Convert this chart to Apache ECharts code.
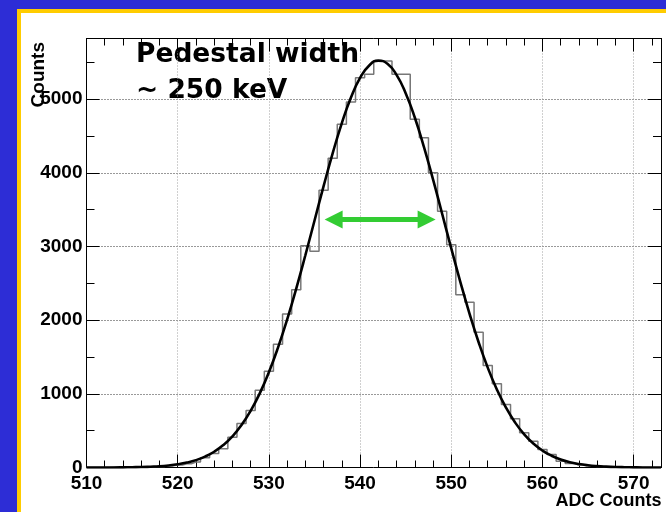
<!DOCTYPE html>
<html>
<head>
<meta charset="utf-8">
<script src="https://cdn.jsdelivr.net/npm/echarts@6.0.0/dist/echarts.min.js"></script>
<style>
  html, body { margin: 0; padding: 0; width: 666px; height: 512px; overflow: hidden; background: #2d2dd6; }
  #panel { position: absolute; left: 17px; top: 9px; width: 700px; height: 600px; background: #fff;
           border-left: 4px solid #ffcc00; border-top: 4px solid #ffcc00; }
  #main { position: absolute; left: 0; top: 0; width: 666px; height: 512px; }
</style>
</head>
<body>
<div id="panel"></div>
<div id="main"></div>
<script>
// histogram bins (bin centre, entries)
var binAdc = [510, 511, 512, 513, 514, 515, 516, 517, 518, 519,
              520, 521, 522, 523, 524, 525, 526, 527, 528, 529,
              530, 531, 532, 533, 534, 535, 536, 537, 538, 539,
              540, 541, 542, 543, 544, 545, 546, 547, 548, 549,
              550, 551, 552, 553, 554, 555, 556, 557, 558, 559,
              560, 561, 562, 563, 564, 565, 566, 567, 568, 569,
              570, 571, 572];
var binCounts = [0, 1, 1, 2, 3, 4, 6, 9, 14, 22,
                 35, 52, 74, 131, 190, 254, 411, 597, 773, 1050,
                 1307, 1674, 2085, 2415, 3012, 2935, 3764, 4198, 4659, 4962,
                 5292, 5338, 5518, 5518, 5338, 5338, 4727, 4478, 4003, 3478,
                 3026, 2347, 2243, 1836, 1384, 1136, 855, 661, 471, 357,
                 244, 176, 86, 55, 35, 22, 14, 9, 5, 3,
                 2, 1, 1];

// gaussian fit curve
var fitAdc = [510, 511, 512, 513, 514, 515, 516, 517, 518, 519,
              520, 521, 522, 523, 524, 525, 526, 527, 528, 529,
              530, 531, 532, 533, 534, 535, 536, 537, 538, 539,
              540, 541, 542, 543, 544, 545, 546, 547, 548, 549,
              550, 551, 552, 553, 554, 555, 556, 557, 558, 559,
              560, 561, 562, 563, 564, 565, 566, 567, 568, 569,
              570, 571, 572, 573];
var fitCounts = [0, 0, 1, 1, 2, 4, 6, 11, 17, 28,
                 44, 67, 100, 148, 214, 304, 423, 576, 769, 1007,
                 1293, 1628, 2008, 2430, 2882, 3351, 3820, 4269, 4676, 5023,
                 5289, 5459, 5525, 5481, 5331, 5083, 4752, 4354, 3912, 3445,
                 2975, 2518, 2090, 1701, 1356, 1060, 813, 611, 450, 325,
                 230, 160, 109, 72, 47, 30, 19, 12, 7, 4,
                 2, 1, 1, 0];

// green width arrow (adc, counts)
var arrowFrom = [537.1, 3368];
var arrowTo = [547.3, 3368];

var xRange = [510, 573];
var yRange = [0, 5825];

var labelFont = "'Liberation Sans', Arial, sans-serif";
var noteFont = "'Comic Sans MS', 'DejaVu Sans', sans-serif";

function pairs(xs, ys) {
    var out = [];
    for (var i = 0; i < xs.length; i++) out.push([xs[i], ys[i]]);
    return out;
}

function xAx(pos, interval, tickLen, main) {
    return {
        type: 'value', position: pos, min: xRange[0], max: xRange[1], interval: interval,
        axisLine: { show: main, onZero: false, lineStyle: { color: '#000', width: 1 } },
        axisTick: { show: true, inside: true, length: tickLen, lineStyle: { color: '#000', width: 1 } },
        axisLabel: {
            show: main && pos === 'bottom', margin: 7, showMaxLabel: false,
            formatter: function (v) { return String(v); },
            fontSize: 19, fontWeight: 'bold', fontFamily: labelFont, color: '#000'
        },
        splitLine: { show: main && pos === 'bottom', lineStyle: { color: '#a0a0a0', type: [1, 2], width: 1 } }
    };
}

function yAx(pos, interval, tickLen, main) {
    return {
        type: 'value', position: pos, min: yRange[0], max: yRange[1], interval: interval,
        axisLine: { show: main, onZero: false, lineStyle: { color: '#000', width: 1 } },
        axisTick: { show: true, inside: true, length: tickLen, lineStyle: { color: '#000', width: 1 } },
        axisLabel: {
            show: main && pos === 'left', margin: 4, showMaxLabel: false,
            formatter: function (v) { return String(v); },
            fontSize: 19, fontWeight: 'bold', fontFamily: labelFont, color: '#000'
        },
        splitLine: { show: main && pos === 'left', lineStyle: { color: '#333', type: [1, 2], width: 1 } }
    };
}

var chart = echarts.init(document.getElementById('main'));
chart.setOption({
    animation: false,
    backgroundColor: 'transparent',
    grid: { left: 86.5, right: 5, top: 38.5, bottom: 44.5, outerBoundsMode: 'none' },
    xAxis: [
        xAx('bottom', 10, 13, true),
        xAx('bottom', 2, 7, false),
        xAx('top', 10, 13, true),
        xAx('top', 2, 7, false)
    ],
    yAxis: [
        yAx('left', 1000, 13, true),
        yAx('left', 500, 8, false),
        yAx('right', 1000, 13, true),
        yAx('right', 500, 8, false)
    ],
    graphic: [
        {
            type: 'text', x: 136, y: 55,
            style: { text: 'Pedestal width', fontSize: 26.5, fontWeight: 'bold',
                     fontFamily: noteFont, fill: '#000', verticalAlign: 'middle' }
        },
        {
            type: 'text', x: 136, y: 91,
            style: { text: '~ 250 keV', fontSize: 26.5, fontWeight: 'bold',
                     fontFamily: noteFont, fill: '#000', verticalAlign: 'middle' }
        },
        {
            type: 'text', x: 39, y: 42, rotation: Math.PI / 2,
            style: { text: 'Counts', fontSize: 19, fontWeight: 'bold', fontFamily: labelFont,
                     fill: '#000', align: 'right', verticalAlign: 'middle' }
        },
        {
            type: 'text', x: 661.5, y: 501,
            style: { text: 'ADC Counts', fontSize: 18, fontWeight: 'bold', fontFamily: labelFont,
                     fill: '#000', align: 'right', verticalAlign: 'middle' }
        }
    ],
    series: [
        {
            name: 'histogram', type: 'line', step: 'middle',
            xAxisIndex: 0, yAxisIndex: 0,
            data: pairs(binAdc, binCounts),
            symbol: 'none',
            lineStyle: { color: '#777', width: 1.5 },
            markLine: {
                silent: true,
                symbol: ['triangle', 'triangle'],
                symbolSize: [18, 18],
                label: { show: false },
                lineStyle: { color: '#33cc33', width: 5, type: 'solid' },
                data: [[{ coord: arrowFrom }, { coord: arrowTo }]]
            }
        },
        {
            name: 'fit', type: 'line', smooth: true,
            xAxisIndex: 0, yAxisIndex: 0,
            data: pairs(fitAdc, fitCounts),
            symbol: 'none',
            lineStyle: { color: '#000', width: 2.6 }
        }
    ]
});
</script>
</body>
</html>
